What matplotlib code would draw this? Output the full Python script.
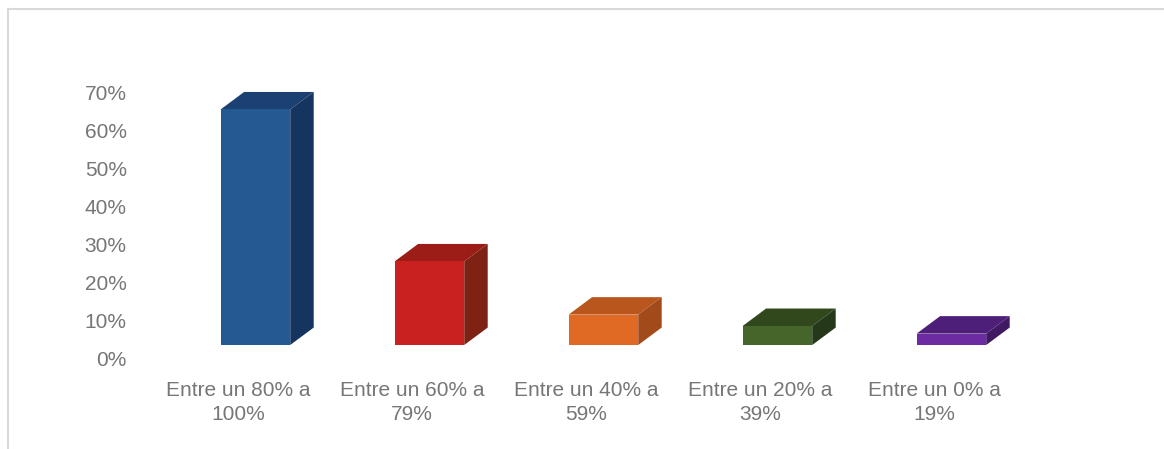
import matplotlib.pyplot as plt
import matplotlib.transforms as mtransforms
from matplotlib.lines import Line2D
from matplotlib.patches import Polygon

# porcentaje de cumplimiento por rango
categories = [
    "Entre un 80% a\n100%",
    "Entre un 60% a\n79%",
    "Entre un 40% a\n59%",
    "Entre un 20% a\n39%",
    "Entre un 0% a\n19%",
]
values = [62, 22, 8, 5, 3]
yticks = [0, 10, 20, 30, 40, 50, 60, 70]

front_colors = ["#245a92", "#c8211f", "#e06a24", "#46652a", "#6c2ba0"]
top_colors = ["#1b4173", "#9c1c17", "#b9561d", "#30481b", "#4e1f78"]
side_colors = ["#15345f", "#7e2214", "#a24a1a", "#25381a", "#3f1a63"]

BAR_W = 0.40
BAR_SHIFT = 0.10
DEPTH_X = 0.135
DEPTH_Y = 4.6
TEXT_COLOR = "#767676"

plt.rcParams["font.family"] = ["Liberation Sans", "DejaVu Sans"]

fig = plt.figure(figsize=(11.64, 4.49), dpi=100)
ax = fig.add_axes([0.1148, 0.2316, 0.7773, 0.6347])

for i, v in enumerate(values):
    xl = i + BAR_SHIFT - BAR_W / 2
    xr = i + BAR_SHIFT + BAR_W / 2
    ax.bar(i + BAR_SHIFT, v, width=BAR_W, color=front_colors[i], zorder=3)
    top = [(xl, v), (xr, v), (xr + DEPTH_X, v + DEPTH_Y), (xl + DEPTH_X, v + DEPTH_Y)]
    side = [(xr, 0), (xr + DEPTH_X, DEPTH_Y), (xr + DEPTH_X, v + DEPTH_Y), (xr, v)]
    ax.add_patch(Polygon(top, closed=True, facecolor=top_colors[i], edgecolor="none", zorder=2))
    ax.add_patch(Polygon(side, closed=True, facecolor=side_colors[i], edgecolor="none", zorder=2))

ax.set_xlim(-0.6, 4.6)
ax.set_ylim(0, 75)
ax.set_xticks(range(len(categories)))
ax.set_xticklabels(categories, fontsize=15, color=TEXT_COLOR, linespacing=1.35)
ax.set_yticks(yticks)
ax.set_yticklabels([f"{t}%" for t in yticks], fontsize=15, color=TEXT_COLOR)
ax.tick_params(axis="both", length=0)
ax.tick_params(axis="x", pad=26)
ax.tick_params(axis="y", pad=5)

# etiquetas del eje de valores un poco más abajo que la base de las columnas
shift = mtransforms.ScaledTranslation(0, -13 / 100, fig.dpi_scale_trans)
for lbl in ax.get_yticklabels():
    lbl.set_transform(lbl.get_transform() + shift)

for s in ax.spines.values():
    s.set_visible(False)

# marco gris del área del gráfico
fig.add_artist(Line2D([8 / 1164, 1.0], [1 - 8.5 / 449, 1 - 8.5 / 449],
                      transform=fig.transFigure, color="#d9d9d9", lw=1.5))
fig.add_artist(Line2D([8 / 1164, 8 / 1164], [0.0, 1 - 8.5 / 449],
                      transform=fig.transFigure, color="#d9d9d9", lw=1.5))

fig.savefig("out.png", dpi=100)
